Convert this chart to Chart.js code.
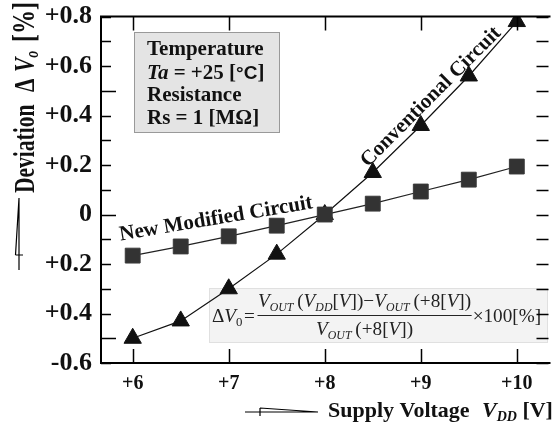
<!DOCTYPE html>
<html>
<head>
<meta charset="utf-8">
<script src="https://cdn.jsdelivr.net/npm/chart.js@4.4.1/dist/chart.umd.min.js"></script>
<style>
  html, body { margin: 0; padding: 0; background: #fff; }
  #chart { display: block; }
</style>
</head>
<body>
<canvas id="chart" width="560" height="423"></canvas>
<script>
// Supply voltage (V) and deviation (%)
const supplyVoltage = [6, 6.5, 7, 7.5, 8, 8.5, 9, 9.5, 10];
const newModified = [-0.166, -0.129, -0.088, -0.045, 0, 0.044, 0.093, 0.141, 0.194];
const conventional = [-0.50, -0.43, -0.30, -0.16, 0, 0.17, 0.36, 0.56, 0.78];

const xTickValues = [6, 7, 8, 9, 10];
const xTickLabels = ["+6", "+7", "+8", "+9", "+10"];
const yTickValues = [-0.6, -0.5, -0.4, -0.3, -0.2, -0.1, 0, 0.1, 0.2, 0.3, 0.4, 0.5, 0.6, 0.7, 0.8];
// labels exactly as printed on the figure (every other tick)
const yTickLabels = ["-0.6", "", "+0.4", "", "+0.2", "", "0", "", "+0.2", "", "+0.4", "", "+0.6", "", "+0.8"];

const SERIF = '"Liberation Serif", "Times New Roman", serif';

// draw a list of [text, font, dy] runs starting at x, returns end x
function drawRuns(ctx, runs, x, y) {
  runs.forEach((r) => {
    ctx.font = r[1];
    ctx.fillText(r[0], x, y + (r[2] || 0));
    x += ctx.measureText(r[0]).width;
  });
  return x;
}
function runsWidth(ctx, runs) {
  let w = 0;
  runs.forEach((r) => {
    ctx.font = r[1];
    w += ctx.measureText(r[0]).width;
  });
  return w;
}

const decorations = {
  id: "decorations",
  beforeDatasetsDraw(chart) {
    const ctx = chart.ctx;
    ctx.save();
    ctx.textAlign = "left";
    ctx.textBaseline = "alphabetic";

    // info box
    ctx.fillStyle = "#e4e4e4";
    ctx.fillRect(134, 32, 145, 100);
    ctx.strokeStyle = "#999";
    ctx.lineWidth = 1;
    ctx.strokeRect(134.5, 32.5, 145, 100);
    ctx.fillStyle = "#111";
    const B = "bold 21px " + SERIF;
    const BI = "italic bold 21px " + SERIF;
    drawRuns(ctx, [["Temperature", B]], 147, 55);
    drawRuns(ctx, [["Ta", BI], [" = +25 [", B], ["°C", "bold 19px \"Liberation Sans\", Arial, sans-serif"], ["]", B]], 147, 79);
    drawRuns(ctx, [["Resistance", B]], 147, 101);
    drawRuns(ctx, [["Rs = 1 [MΩ]", B]], 147, 124);

    // formula box
    ctx.fillStyle = "#f3f3f3";
    ctx.fillRect(209, 288, 338, 54);
    ctx.strokeStyle = "#e0e0e0";
    ctx.strokeRect(209.5, 288.5, 338, 54);
    ctx.fillStyle = "#222";
    const M = "19.5px " + SERIF;
    const I = "italic 19.5px " + SERIF;
    const S = "italic 12px " + SERIF;
    const S0 = "13px " + SERIF;
    const left = [["Δ", M], ["V", I], ["0", S0, 4], ["\u200a=\u200a", M]];
    const num = [["V", I], ["OUT", S, 4], ["\u2009(", M], ["V", I], ["DD", S, 4], ["[", M], ["V", I], ["])", M], ["−", M], ["V", I], ["OUT", S, 4], ["\u2009(+8[", M], ["V", I], ["])", M]];
    const den = [["V", I], ["OUT", S, 4], ["\u2009(+8[", M], ["V", I], ["])", M]];
    ctx.save();
    ctx.translate(212, 0);
    ctx.scale(0.985, 1);
    const fx = drawRuns(ctx, left, 0, 322) + 1;
    const nw = runsWidth(ctx, num);
    const dw = runsWidth(ctx, den);
    const bw = Math.max(nw, dw) + 1;
    drawRuns(ctx, num, fx + (bw - nw) / 2, 307);
    drawRuns(ctx, den, fx + (bw - dw) / 2, 335);
    ctx.strokeStyle = "#222";
    ctx.beginPath();
    ctx.moveTo(fx, 315.5);
    ctx.lineTo(fx + bw, 315.5);
    ctx.stroke();
    drawRuns(ctx, [["×100[%]", M]], fx + bw + 1, 322);
    ctx.restore();

    // curve labels
    ctx.fillStyle = "#111";
    ctx.textAlign = "center";
    ctx.textBaseline = "middle";
    ctx.font = "bold 21px " + SERIF;
    ctx.save();
    ctx.translate(431, 97);
    ctx.rotate(-Math.PI / 4);
    ctx.fillText("Conventional Circuit", 0, 0);
    ctx.restore();
    ctx.save();
    ctx.translate(216, 219);
    ctx.rotate(-9.5 * Math.PI / 180);
    ctx.fillText("New Modified Circuit", 0, 0);
    ctx.restore();

    ctx.restore();
  },
  afterDraw(chart) {
    const ctx = chart.ctx;
    const a = chart.chartArea;
    const xs = chart.scales.x;
    const ys = chart.scales.y;
    ctx.save();
    ctx.strokeStyle = "#000";

    // frame (right side falls off the picture)
    ctx.lineWidth = 2;
    ctx.beginPath();
    ctx.moveTo(a.right + 2, a.top);
    ctx.lineTo(a.left, a.top);
    ctx.lineTo(a.left, a.bottom);
    ctx.lineTo(a.right + 2, a.bottom);
    ctx.stroke();

    // inward tick marks
    ctx.lineWidth = 1.5;
    ctx.beginPath();
    xTickValues.forEach((v) => {
      const px = Math.round(xs.getPixelForValue(v)) + 0.5;
      ctx.moveTo(px, a.bottom);
      ctx.lineTo(px, a.bottom - 14);
      ctx.moveTo(px, a.top);
      ctx.lineTo(px, a.top + 14);
    });
    yTickValues.forEach((v) => {
      const py = Math.round(ys.getPixelForValue(v)) + 0.5;
      const len = Math.abs(Math.round(v * 10)) % 5 === 0 ? 15 : 10;
      ctx.moveTo(a.left, py);
      ctx.lineTo(a.left + len, py);
      ctx.moveTo(a.right, py);
      ctx.lineTo(a.right - 12, py);
    });
    ctx.stroke();

    // axis titles
    ctx.fillStyle = "#111";
    ctx.textAlign = "left";
    ctx.textBaseline = "alphabetic";
    const XB = "bold 22px " + SERIF;
    const XBI = "italic bold 22px " + SERIF;
    const XBS = "italic bold 14px " + SERIF;
    drawRuns(ctx, [["Supply Voltage", XB]], 328, 417);
    drawRuns(ctx, [["V", XBI], ["DD", XBS, 4], [" [V]", XB]], 482, 417);

    // vertical title: glyphs are taller than they are long in the figure
    const B = "bold 21.5px " + SERIF;
    const BI = "italic bold 21.5px " + SERIF;
    const BS = "italic bold 14px " + SERIF;
    ctx.save();
    ctx.translate(34, 193);
    ctx.rotate(-Math.PI / 2);
    ctx.scale(1, 1.35);
    drawRuns(ctx, [["Deviation", B]], 0, 0);
    drawRuns(ctx, [["Δ", B]], 101, 0);
    drawRuns(ctx, [["V", BI], ["o", BS, 3]], 121, 0);
    drawRuns(ctx, [["[%]", "bold 24px " + SERIF]], 151, 0);
    ctx.restore();

    // small arrow marks next to the axis titles
    ctx.lineWidth = 1.2;
    ctx.beginPath();
    ctx.moveTo(19, 198); ctx.lineTo(19, 270);
    ctx.moveTo(19, 198); ctx.lineTo(15.5, 255);
    ctx.moveTo(15.5, 255); ctx.lineTo(23, 255);
    ctx.moveTo(245, 412); ctx.lineTo(318, 412);
    ctx.moveTo(318, 412); ctx.lineTo(260, 408);
    ctx.moveTo(260, 408); ctx.lineTo(260, 416);
    ctx.stroke();

    ctx.restore();
  }
};

const ctx = document.getElementById("chart").getContext("2d");
new Chart(ctx, {
  type: "line",
  data: {
    datasets: [
      {
        label: "New Modified Circuit",
        data: supplyVoltage.map((v, i) => ({ x: v, y: newModified[i] })),
        borderColor: "#222",
        borderWidth: 1.2,
        pointStyle: "rect",
        pointRadius: 10.5,
        pointBackgroundColor: "#333",
        pointBorderColor: "#3a3a3a",
        pointBorderWidth: 1,
        tension: 0,
      },
      {
        label: "Conventional Circuit",
        data: supplyVoltage.map((v, i) => ({ x: v, y: conventional[i] })),
        borderColor: "#111",
        borderWidth: 1.2,
        pointStyle: "triangle",
        pointRadius: 10,
        pointBackgroundColor: "#111",
        pointBorderColor: "#111",
        pointBorderWidth: 1,
        tension: 0,
      },
    ],
  },
  options: {
    responsive: false,
    animation: false,
    devicePixelRatio: 1,
    layout: { padding: { top: 16, right: 0, left: 0, bottom: 0 } },
    plugins: {
      legend: { display: false },
      tooltip: { enabled: false },
    },
    scales: {
      x: {
        type: "linear",
        min: 5.67,
        max: 10.33,
        afterBuildTicks: (scale) => {
          scale.ticks = xTickValues.map((v) => ({ value: v }));
        },
        afterFit: (scale) => {
          scale.height = 60;
        },
        grid: { display: false },
        border: { display: false },
        ticks: {
          padding: 1,
          color: "#111",
          font: { family: SERIF, size: 20, weight: "bold" },
          callback: (v) => xTickLabels[xTickValues.indexOf(v)] || "",
          maxRotation: 0,
        },
      },
      y: {
        min: -0.6,
        max: 0.8,
        afterBuildTicks: (scale) => {
          scale.ticks = yTickValues.map((v) => ({ value: v }));
        },
        afterFit: (scale) => {
          scale.width = 101;
        },
        grid: { display: false },
        border: { display: false },
        ticks: {
          padding: 1,
          color: "#111",
          font: { family: SERIF, size: 26, weight: "bold" },
          callback: (v) => {
            const i = yTickValues.findIndex((t) => Math.abs(t - v) < 1e-6);
            return i >= 0 ? yTickLabels[i] : "";
          },
        },
      },
    },
  },
  plugins: [decorations],
});
</script>
</body>
</html>
